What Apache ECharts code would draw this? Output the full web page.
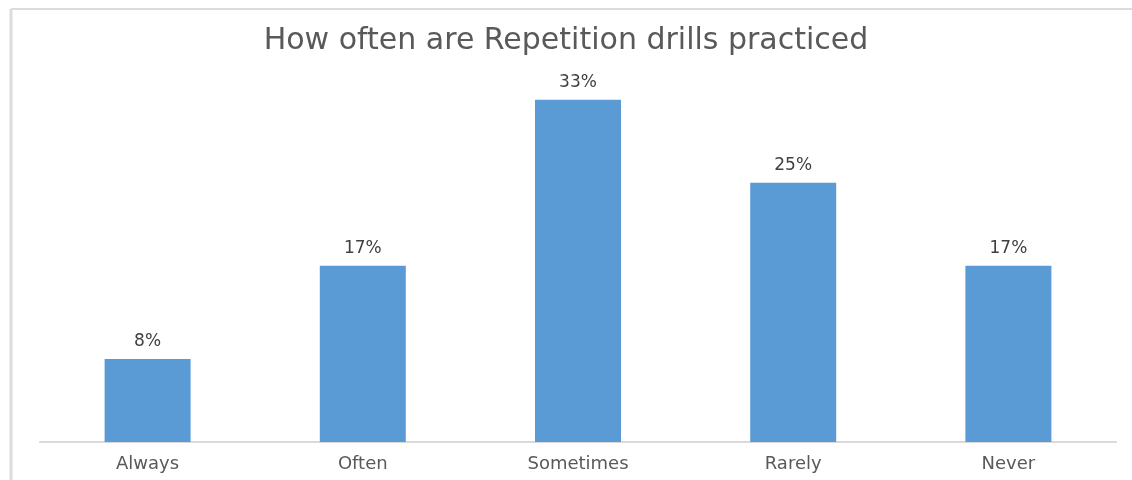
<!DOCTYPE html>
<html>
<head>
<meta charset="utf-8">
<script src="https://cdn.jsdelivr.net/npm/echarts@6/dist/echarts.min.js"></script>
<style>
  html, body { margin: 0; padding: 0; background: #ffffff; }
  #chart { width: 1132px; height: 480px; }
</style>
</head>
<body>
<div id="chart"></div>
<script>
// Survey answers and their share of respondents (%)
const categories = ['Always', 'Often', 'Sometimes', 'Rarely', 'Never'];
const shares = [8, 17, 33, 25, 17];
const titleText = 'How often are Repetition drills practiced';

const chart = echarts.init(document.getElementById('chart'), null, { renderer: 'canvas' });

chart.setOption({
  backgroundColor: '#ffffff',
  animation: false,
  title: {
    text: titleText,
    left: 'center',
    top: 21,
    textStyle: {
      fontFamily: 'DejaVu Sans',
      fontSize: 30,
      fontWeight: 'normal',
      color: '#595959'
    }
  },
  grid: { left: 40, right: 16, top: 79, bottom: 38 },
  xAxis: {
    type: 'category',
    data: categories,
    axisLine: { lineStyle: { color: '#d9d9d9', width: 2 } },
    axisTick: { show: false },
    axisLabel: {
      fontFamily: 'DejaVu Sans',
      fontSize: 18,
      color: '#595959',
      margin: 13
    }
  },
  yAxis: {
    type: 'value',
    min: 0,
    max: 35,
    show: false,
    splitLine: { show: false }
  },
  series: [{
    type: 'bar',
    data: shares,
    barWidth: 86,
    itemStyle: { color: '#5b9bd5' },
    label: {
      show: true,
      position: 'top',
      distance: 9,
      formatter: p => p.value + '%',
      fontFamily: 'DejaVu Sans',
      fontSize: 17,
      color: '#404040'
    }
  }],
  graphic: [
    { type: 'line', shape: { x1: 11, y1: 9, x2: 1132, y2: 9 }, style: { stroke: '#dcdcdc', lineWidth: 2 }, silent: true },
    { type: 'line', shape: { x1: 11, y1: 9, x2: 11, y2: 480 }, style: { stroke: '#dcdcdc', lineWidth: 3 }, silent: true }
  ]
});
</script>
</body>
</html>
